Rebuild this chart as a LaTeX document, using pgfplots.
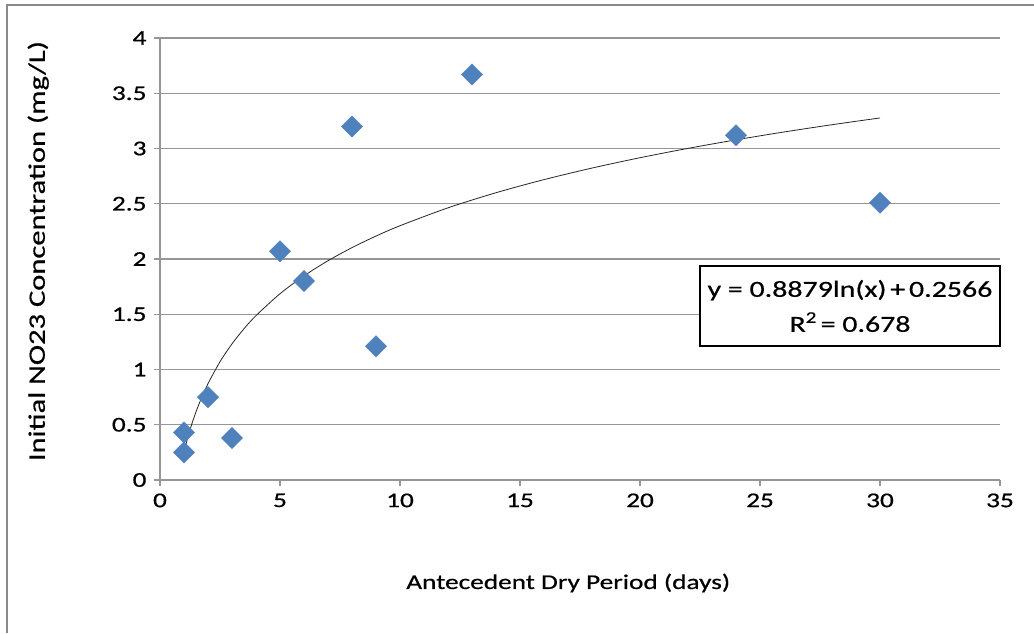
\documentclass[border=0pt]{standalone}
\usepackage{pgfplots}
\pgfplotsset{compat=1.18}
\usepackage{fontspec}
\setmainfont[FakeStretch=1.3, FakeBold=0.6]{Carlito}
\definecolor{exblue}{HTML}{4F81BD}
\definecolor{gridgray}{HTML}{969696}
\definecolor{framegray}{HTML}{8A8A8A}
\begin{document}
\begin{tikzpicture}
% page frame (1 pt = 1 px of the reference)
\path[use as bounding box] (0pt,0pt) rectangle (1034pt,633pt);
\draw[framegray, line width=2.5pt] (7pt,0pt) -- (7pt,628pt) -- (1034pt,628pt);
\begin{axis}[
    at={(160pt,153pt)}, anchor=south west,
    scale only axis,
    width=840pt, height=442pt,
    xmin=0, xmax=35, ymin=0, ymax=4,
    xtick={0,5,...,35},
    ytick={0,0.5,...,4},
    yticklabels={0,0.5,1,1.5,2,2.5,3,3.5,4},
    axis lines=left,
    axis line style={-, gridgray, line width=1.2pt},
    ymajorgrids,
    grid style={gridgray, line width=1.2pt},
    tick style={gridgray, line width=1.2pt},
    tick align=outside,
    major tick length=6pt,
    font=\fontsize{21}{25}\selectfont,
    /pgf/number format/assume math mode=true,
    xticklabel style={yshift=-4pt},
    yticklabel style={xshift=-4pt},
    xlabel={Antecedent Dry Period (days)},
    ylabel={Initial NO23 Concentration (mg/L)},
    xlabel style={at={(axis description cs:0.486,-0.233)}, anchor=center},
    ylabel style={at={(axis description cs:-0.145,0.518)}, anchor=center,
        font=\fontsize{23.5}{28}\selectfont},
    clip=false,
]
% logarithmic trendline, y = 0.8879 ln(x) + 0.2566 evaluated at listed x
\addplot[black!85, line width=0.8pt, smooth] coordinates {
    (1,0.2566) (1.25,0.4547) (1.5,0.6166) (1.75,0.7535) (2,0.8721)
    (2.5,1.0702) (3,1.2321) (3.5,1.3689) (4,1.4875) (5,1.6856)
    (6,1.8475) (7,1.9844) (8,2.1029) (9,2.2075) (10,2.3011)
    (12,2.4630) (14,2.5998) (16,2.7184) (18,2.8230) (20,2.9165)
    (22,3.0011) (24,3.0784) (26,3.1495) (28,3.2153) (30,3.2765)
};
\addplot[only marks, mark=square*, mark size=7.5pt,
    mark options={rotate=45, fill=exblue, draw=exblue}] coordinates {
    (1,0.43) (1,0.25) (2,0.75) (3,0.38) (5,2.07) (6,1.80)
    (8,3.20) (9,1.21) (13,3.67) (24,3.12) (30,2.51)
};
\node[draw=black, line width=1.6pt, fill=white, align=center,
    inner sep=0pt, minimum width=300pt, minimum height=80pt,
    font=\fontsize{23}{35}\selectfont]
    at (axis cs:28.75,1.575)
    {y = 0.8879ln(x)\,+\,0.2566\\R\textsuperscript{2}\,= 0.678};
\end{axis}
\end{tikzpicture}
\end{document}
